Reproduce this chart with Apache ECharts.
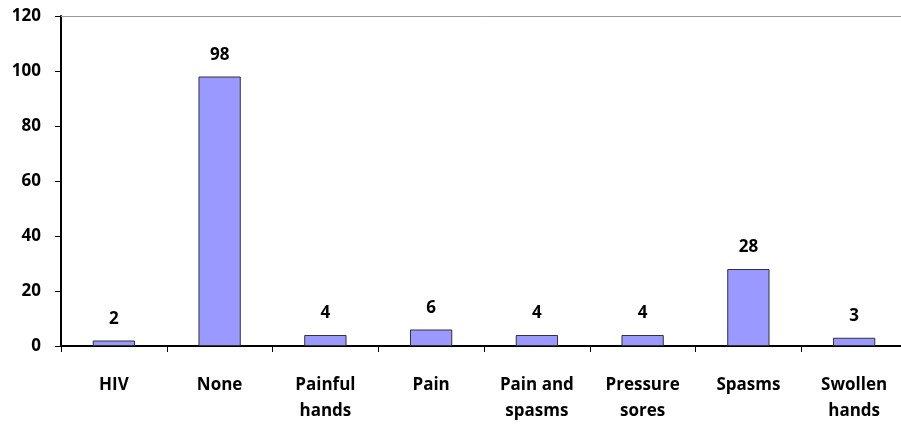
<!DOCTYPE html>
<html><head><meta charset="utf-8">
<script src="https://cdn.jsdelivr.net/npm/echarts@6/dist/echarts.min.js"></script>
<style>html,body{margin:0;padding:0;background:#fff;overflow:hidden}#c{width:907px;height:425px}</style>
</head><body><div id="c"></div>
<script>
const categories = ["HIV", "None", "Painful\nhands", "Pain", "Pain and\nspasms", "Pressure\nsores", "Spasms", "Swollen\nhands"];
const values = [2, 98, 4, 6, 4, 4, 28, 3];
const yTicks = [0, 20, 40, 60, 80, 100, 120];

const font = "'Open Sans', 'Noto Sans', sans-serif";
const chart = echarts.init(document.getElementById('c'), null, {renderer: 'canvas'});
chart.setOption({
  animation: false,
  grid: {left: 61, top: 16, right: 0, bottom: 79, containLabel: false},
  xAxis: [{
    type: 'category', data: categories,
    axisLine: {lineStyle: {color: '#000', width: 2}},
    axisTick: {show: true, length: 6, lineStyle: {color: '#000', width: 1}},
    axisLabel: {color: '#000', fontFamily: font, fontWeight: 'bold', fontSize: 17, margin: 26, lineHeight: 26, interval: 0}
  }, {
    type: 'category', data: categories, position: 'top',
    axisLine: {show: true, lineStyle: {color: '#999', width: 1}},
    axisTick: {show: false}, axisLabel: {show: false}
  }],
  yAxis: {
    type: 'value', min: yTicks[0], max: yTicks[yTicks.length - 1], interval: 20,
    axisLine: {show: true, lineStyle: {color: '#000', width: 2}},
    axisTick: {show: true, length: 6, lineStyle: {color: '#000', width: 1}},
    splitLine: {show: false},
    axisLabel: {color: '#000', fontFamily: font, fontWeight: 'bold', fontSize: 17, margin: 20}
  },
  series: [{
    type: 'bar', data: values, barWidth: '40%',
    itemStyle: {color: '#9999FF', borderColor: '#333333', borderWidth: 1},
    label: {show: true, position: 'top', distance: 13, color: '#000', fontFamily: font, fontWeight: 'bold', fontSize: 17}
  }]
});
</script></body></html>
